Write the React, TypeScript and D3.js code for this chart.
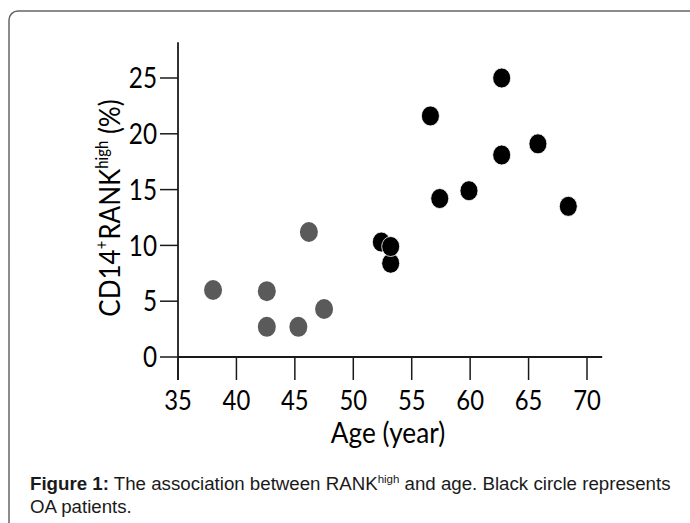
import React from "react";
import * as d3 from "d3";

const controlAge = [38.0, 42.6, 42.6, 45.3, 47.5, 46.2];
const controlValue = [6.0, 5.9, 2.7, 2.7, 4.3, 11.2];
const oaAge = [52.4, 53.2, 53.2, 56.6, 57.4, 59.9, 62.7, 62.7, 65.8, 68.4];
const oaValue = [10.3, 8.4, 9.9, 21.6, 14.2, 14.9, 25.0, 18.1, 19.1, 13.5];
const xTicks = [35, 40, 45, 50, 55, 60, 65, 70];
const yTicks = [0, 5, 10, 15, 20, 25];

const W = 690;
const H = 523;

export default function App() {
  const x = d3.scaleLinear().domain([35, 70]).range([178, 587]);
  const y = d3.scaleLinear().domain([0, 25]).range([357, 78]);
  const axisColor = "#1a1a1a";
  const font = "Lato, 'Open Sans', sans-serif";
  const capFont = "'Liberation Sans', Arial, sans-serif";
  const x0 = x(35);
  const y0 = y(0);
  const control = controlAge.map((a, i) => ({ a, v: controlValue[i] }));
  const oa = oaAge.map((a, i) => ({ a, v: oaValue[i] }));
  return (
    <svg width={W} height={H} style={{ position: "absolute", left: 0, top: 0, background: "#fff" }}>
      <rect x={9} y={11} width={700} height={540} rx={9} ry={9} fill="none" stroke="#666" strokeWidth={1.5} />
      {/* axes */}
      <line x1={x0} x2={x0} y1={y(28.2)} y2={380} stroke={axisColor} strokeWidth={1.8} />
      <line x1={x0} x2={x(71.3)} y1={y0} y2={y0} stroke={axisColor} strokeWidth={1.8} />
      {yTicks.map((t) => (
        <g key={"y" + t}>
          <line x1={x0 - 18} x2={x0} y1={y(t)} y2={y(t)} stroke={axisColor} strokeWidth={1.5} />
          <text
            transform={`translate(${x0 - 21},${y(t)}) scale(0.9,1.04)`}
            dy="0.36em"
            textAnchor="end"
            fontFamily={font}
            fontSize={27}
            fill="#000"
          >
            {t}
          </text>
        </g>
      ))}
      {xTicks.map((t) => (
        <g key={"x" + t}>
          <line x1={x(t)} x2={x(t)} y1={y0} y2={380} stroke={axisColor} strokeWidth={1.5} />
          <text
            transform={`translate(${x(t)},410) scale(0.9,1.04)`}
            textAnchor="middle"
            fontFamily={font}
            fontSize={26.5}
            fill="#000"
          >
            {t}
          </text>
        </g>
      ))}
      <text transform="translate(388,443) scale(0.97,1.05)" textAnchor="middle" fontFamily={font} fontSize={27} fill="#000">
        Age (year)
      </text>
      <text
        transform={`translate(120,208) rotate(-90) scale(0.93,1.05)`}
        textAnchor="middle"
        fontFamily={font}
        fontSize={28}
        fill="#000"
      >
        CD14
        <tspan fontSize={16} dy={-11}>+</tspan>
        <tspan dy={11} dx={1}>RANK</tspan>
        <tspan fontSize={16} dy={-11}>high</tspan>
        <tspan dy={11}> (%)</tspan>
      </text>
      {/* points */}
      {control.map((d, i) => (
        <ellipse key={"c" + i} cx={x(d.a)} cy={y(d.v)} rx={9} ry={10} fill="#5a5a5a" />
      ))}
      {oa.map((d, i) => (
        <ellipse key={"o" + i} cx={x(d.a)} cy={y(d.v)} rx={9} ry={10} fill="#000" stroke="#fff" strokeWidth={0.8} />
      ))}
      {/* caption */}
      <text x={30} y={490} fontFamily={capFont} fontSize={18.7} fill="#1a1a1a">
        <tspan fontWeight="bold">Figure 1:</tspan>
        <tspan> The association between RANK</tspan>
        <tspan fontSize={11.5} dy={-7}>high</tspan>
        <tspan dy={7}> and age. Black circle represents</tspan>
      </text>
      <text x={30} y={513} fontFamily={capFont} fontSize={18.7} fill="#1a1a1a">
        OA patients.
      </text>
    </svg>
  );
}
